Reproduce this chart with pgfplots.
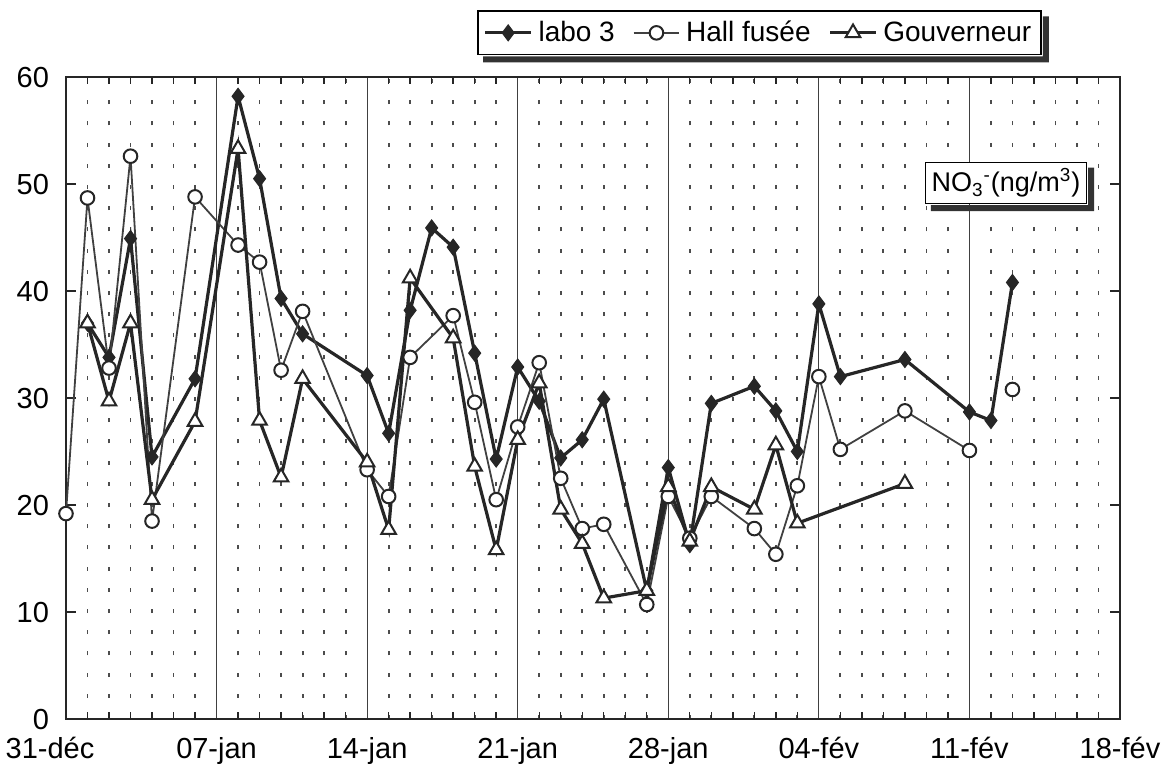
\documentclass[border=0pt]{standalone}
\usepackage{pgfplots}
\pgfplotsset{compat=1.18}
\usepackage{fontspec}
\setmainfont{Liberation Sans}

% days counted from 31-dec
\begin{document}
\begin{tikzpicture}
\begin{axis}[
  scale only axis,
  width=527pt, height=321pt,
  xmin=0, xmax=49, ymin=0, ymax=60,
  clip=false,
  axis line style={black!85, line width=0.8pt},
  xtick={0,7,...,49},
  xticklabels={{31-déc\hspace*{16pt}},07-jan,14-jan,21-jan,28-jan,04-fév,11-fév,18-fév},
  minor x tick num=6,
  ytick={0,10,...,60},
  tick align=inside,
  major x tick style={draw=none},
  tick style={black!85, line width=0.7pt},
  major tick length=5pt, minor tick length=3.5pt,
  xmajorgrids, xminorgrids,
  major grid style={black!75, line width=0.6pt},
  minor grid style={black!70, line width=0.9pt, dash pattern=on 2pt off 8.6pt},
  tick label style={font=\fontsize{14.5}{16}\selectfont},
  /pgf/number format/assume math mode=true,
  yticklabel style={xshift=-5pt},
  xticklabel style={yshift=-8pt, inner sep=1pt},
  unbounded coords=jump,
  legend columns=3,
  legend style={at={(rel axis cs:0.658,1.104)}, anchor=north, name=leg,
    draw=black, line width=0.8pt, fill=white,
    font=\fontsize{14}{16}\selectfont, inner sep=3pt,
    /tikz/every even column/.append style={column sep=7pt},
    /tikz/every odd column/.append style={column sep=1pt}},
  legend image code/.code={\draw[mark repeat=2,mark phase=2]
    plot coordinates {(0cm,0cm)(0.4cm,0cm)(0.8cm,0cm)};},
]

\addplot[black!85, line width=1.6pt, mark=diamond*, mark size=4pt,
  mark options={fill=black!85, line width=0.5pt}] coordinates {
(1,37.0) (2,33.8) (3,44.9) (4,24.5) (6,31.8) (8,58.2) (9,50.5) (10,39.3)
(11,36.0) (14,32.1) (15,26.7) (16,38.2) (17,45.9) (18,44.1) (19,34.2)
(20,24.3) (21,32.9) (22,29.7) (23,24.4) (24,26.1) (25,29.9) (27,12.0)
(28,23.5) (29,16.3) (30,29.5) (32,31.1) (33,28.8) (34,25.0) (35,38.8)
(36,32.0) (39,33.6) (42,28.7) (43,27.9) (44,40.8)};
\addlegendentry{labo 3}

\addplot[black!75, line width=0.9pt, mark=*, mark size=3.4pt,
  mark options={fill=white, draw=black!85, line width=1pt}] coordinates {
(0,19.2) (1,48.7) (2,32.8) (3,52.6) (4,18.5) (6,48.8) (8,44.3) (9,42.7)
(10,32.6) (11,38.1) (14,23.3) (15,20.8) (16,33.8) (18,37.7) (19,29.6)
(20,20.5) (21,27.3) (22,33.3) (23,22.5) (24,17.8) (25,18.2) (27,10.7)
(28,20.8) (29,16.9) (30,20.8) (32,17.8) (33,15.4) (34,21.8) (35,32.0)
(36,25.2) (39,28.8) (42,25.1) (43,nan) (44,30.8)};
\addlegendentry{Hall fusée}

\addplot[black!85, line width=1.6pt, mark=triangle*, mark size=4.2pt,
  mark options={fill=white, line width=1pt}] coordinates {
(1,37.0) (2,29.7) (3,37.0) (4,20.5) (6,27.8) (8,53.3) (9,27.9) (10,22.6)
(11,31.8) (14,24.0) (15,17.7) (16,41.2) (18,35.6) (19,23.6) (20,15.8)
(21,26.1) (22,31.4) (23,19.6) (24,16.4) (25,11.3) (27,12.0) (28,21.7)
(29,16.6) (30,21.7) (32,19.6) (33,25.6) (34,18.3) (39,22.0)};
\addlegendentry{Gouverneur}

\node[draw=black, line width=0.8pt, fill=white, inner sep=3pt, name=lab,
  font=\fontsize{13.5}{15}\selectfont]
  at (axis cs:43.7,50.1) {NO\textsubscript{3}\textsuperscript{-}(ng/m\textsuperscript{3})};

\path (rel axis cs:-0.0626,-0.0935) (rel axis cs:1.0408,1.12);
\end{axis}
% shadows of the legend and of the label box
\foreach \n in {leg,lab}{
  \fill[black!80] ([xshift=0.4pt,yshift=-3pt]\n.north east) -- ([xshift=3.4pt,yshift=-3pt]\n.north east)
    -- ([xshift=3.4pt,yshift=-3.4pt]\n.south east) -- ([xshift=3pt,yshift=-3.4pt]\n.south west)
    -- ([xshift=3pt,yshift=-0.4pt]\n.south west) -- ([xshift=0.4pt,yshift=-0.4pt]\n.south east) -- cycle;
}
\end{tikzpicture}
\end{document}
